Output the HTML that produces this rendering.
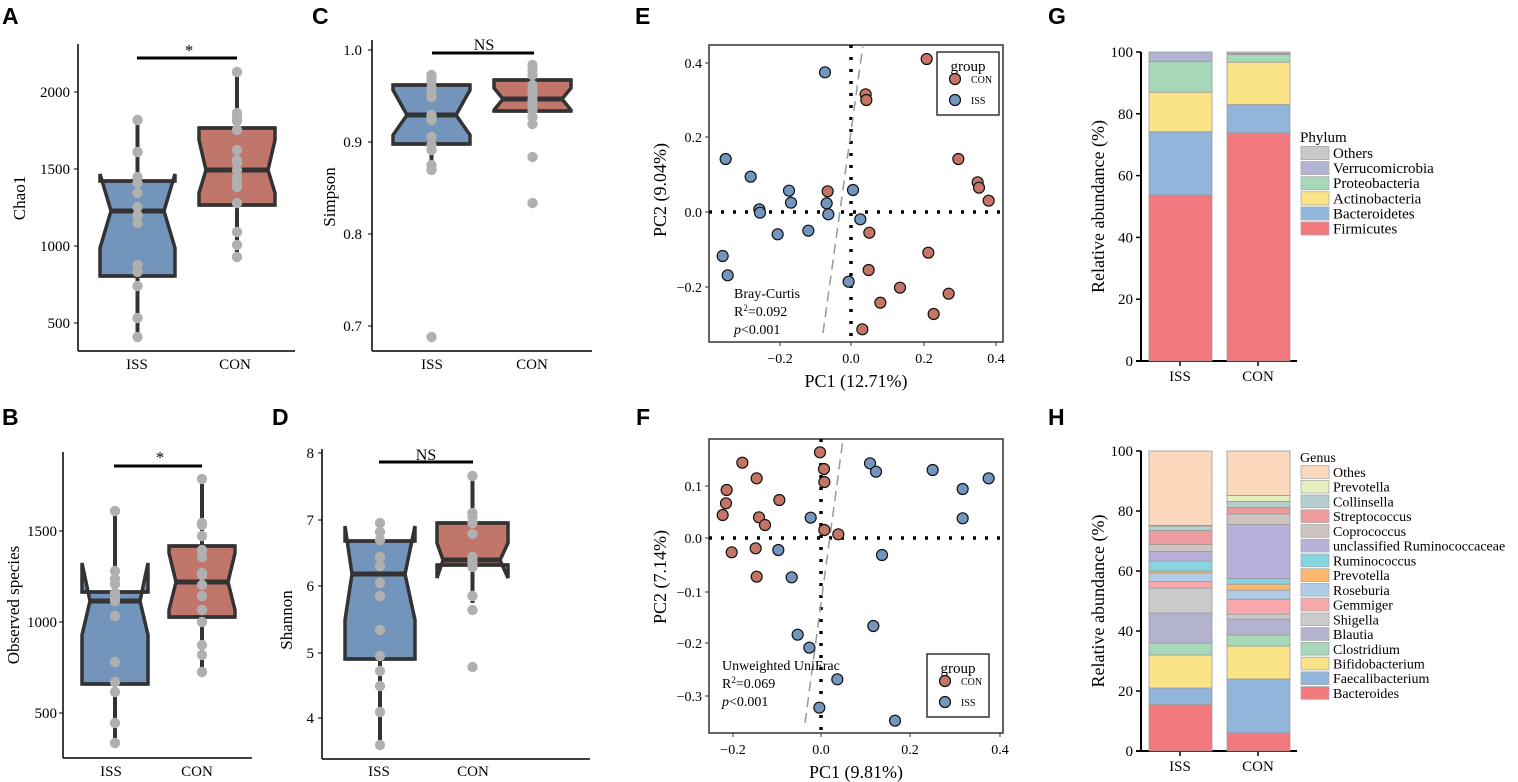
<!DOCTYPE html>
<html><head><meta charset="utf-8"><style>
html,body{margin:0;padding:0;background:#fff;width:1518px;height:782px;overflow:hidden}
svg{display:block;font-family:"Liberation Serif",serif}
.lt{font-family:"Liberation Sans",sans-serif;font-weight:bold;font-size:23px}
</style></head><body>
<svg id="s" width="1518" height="782" viewBox="0 0 1518 782" xmlns="http://www.w3.org/2000/svg">
<text class="lt" x="2" y="24">A</text>
<text class="lt" x="312" y="24">C</text>
<text class="lt" x="635" y="24">E</text>
<text class="lt" x="1048" y="24">G</text>
<text class="lt" x="2" y="425">B</text>
<text class="lt" x="272" y="425">D</text>
<text class="lt" x="636" y="425">F</text>
<text class="lt" x="1048" y="425">H</text>
</svg>
<script>
var S=document.getElementById('s');var h='';
function T(x,y,t,sz,anc,extra){h+='<text x="'+x+'" y="'+y+'" font-size="'+sz+'" text-anchor="'+(anc||'middle')+'" '+(extra||'')+'>'+t+'</text>';}
function L(x1,y1,x2,y2,c,w,extra){h+='<line x1="'+x1+'" y1="'+y1+'" x2="'+x2+'" y2="'+y2+'" stroke="'+c+'" stroke-width="'+w+'" '+(extra||'')+'/>';}
function C(x,y,r,f,st){h+='<circle cx="'+x+'" cy="'+y+'" r="'+r+'" fill="'+f+'"'+(st?' stroke="#111" stroke-width="1.2"':'')+'/>';}
function R(x,y,w,hh,f,st){h+='<rect x="'+x+'" y="'+y+'" width="'+w+'" height="'+hh+'" fill="'+f+'"'+(st?' stroke="'+st+'" stroke-width="0.8"':'')+'/>';}
function box(x0,x1,q3,nU,med,nL,q1,xi0,xi1,wt,wb,pts,col){
 var xc=(x0+x1)/2;
 L(xc,wt,xc,wb,'#333',4);
 h+='<path d="M'+x0+','+q1+' L'+x0+','+nL+' L'+xi0+','+med+' L'+x0+','+nU+' L'+x0+','+q3+' L'+x1+','+q3+' L'+x1+','+nU+' L'+xi1+','+med+' L'+x1+','+nL+' L'+x1+','+q1+' Z" fill="'+col+'" stroke="#333" stroke-width="3.5" stroke-linejoin="miter"/>';
 L(x0,q3,x1,q3,'#333',3.5);L(x0,q1,x1,q1,'#333',3.5);
 L(xi0,med,xi1,med,'#333',5);
 pts.forEach(function(y){C(xc,y,5.2,'#b0b0b0');});
}
var BL='#7395bb',RD='#c0766a';
function axes(x,top,bot,right){L(x,top,x,bot,'#000',1.5);L(x,bot,right,bot,'#000',1.5);}
// A
axes(78,44,351,295);
[[2000,92],[1500,169],[1000,246],[500,323]].forEach(function(t){T(70,t[1]+5,t[0],15,'end');L(74,t[1],78,t[1],'#000',1);});
T(20,198,'Chao1',17,'middle','transform="rotate(-90 20 198)" dy="5"');
box(100,175,181,174,211,248,276,111,164,120,337,[120,152,177,183,193,207,215,223,265,272,286,318,337],BL);
box(199,275,128,140,170,193,205,206,268,72,257,[72,113,118,121,130,150,160,163,170,177,183,187,203,232,245,257],RD);
L(137,58,237,58,'#000',3);T(189,56,'*',17);
T(137,369,'ISS',15);T(235,369,'CON',15);
// C
axes(372,40,351,592);
[['1.0',50],['0.9',142],['0.8',234],['0.7',326]].forEach(function(t){T(362,t[1]+5,t[0],15,'end');L(368,t[1],372,t[1],'#000',1);});
T(330,197,'Simpson',17,'middle','transform="rotate(-90 330 197)" dy="5"');
box(393,470,85,90,115,135,144,407,456,73,170,[75,78,82,88,92,97,115,117,120,137,145,150,165,170,337],BL);
box(494,571,80,88,99,110,111,503,562,65,125,[65,70,75,85,90,95,100,105,110,117,124,157,203],RD);
L(432,53,534,53,'#000',3);T(484,50,'NS',16);
T(432,369,'ISS',15);T(532,369,'CON',15);
// B
axes(63,452,758,252);
[[1500,531],[1000,622],[500,713]].forEach(function(t){T(57,t[1]+5,t[0],15,'end');L(59,t[1],63,t[1],'#000',1);});
T(14,605,'Observed species',17,'middle','transform="rotate(-90 14 605)" dy="5"');
box(82,148,592,563,601,635,684,90,140,511,743,[511,571,579,584,593,598,601,616,662,682,692,723,743],BL);
box(169,235,546,553,582,610,617,176,228,479,672,[479,523,525,536,550,557,573,575,585,596,610,622,645,655,672],RD);
L(114,466,202,466,'#000',3);T(160,463,'*',17);
T(111,776,'ISS',15);T(197,776,'CON',15);
// D
axes(322,449,759,590);
[[8,453],[7,520],[6,586],[5,653],[4,718]].forEach(function(t){T(314,t[1]+5,t[0],15,'end');L(318,t[1],322,t[1],'#000',1);});
T(287,620,'Shannon',17,'middle','transform="rotate(-90 287 620)" dy="5"');
box(345,415,541,526,574,620,659,352,405,523,745,[523,532,540,557,566,583,596,630,656,671,686,712,745],BL);
box(437,508,523,543,560,578,565,443,500,476,603,[476,513,517,523,534,557,560,563,567,596,610,667],RD);
L(379,462,473,462,'#000',3);T(426,460,'NS',16);
T(379,776,'ISS',15);T(473,776,'CON',15);
// PCoA
var PB='#7396be',PR='#c57566';
function pc(top,bot,xt,yt,vx,hy,dash,blue,red,xl,yl,yly,leg,txt,ty){
 h+='<rect x="709" y="'+top+'" width="294" height="'+(bot-top)+'" fill="none" stroke="#333" stroke-width="1.5"/>';
 xt.forEach(function(t){T(t[1],bot+21,t[0],14);L(t[1],bot,t[1],bot+4,'#333',1);});
 yt.forEach(function(t){T(702,t[1]+5,t[0],14,'end');L(705,t[1],709,t[1],'#333',1);});
 L(vx,top,vx,bot,'#000',3.5,'stroke-dasharray="3,9"');
 L(709,hy,1003,hy,'#000',3.5,'stroke-dasharray="3,9"');
 L(dash[0],dash[1],dash[2],dash[3],'#999',1.5,'stroke-dasharray="10,6"');
 blue.forEach(function(p){C(p[0]/3+600,p[1]/3+ty,5.5,PB,1);});
 red.forEach(function(p){C(p[0]/3+600,p[1]/3+ty,5.5,PR,1);});
 T(856,bot+45,xl,18);
 T(660,yly,yl,18,'middle','transform="rotate(-90 660 '+yly+')" dy="6"');
 h+='<rect x="'+leg[0]+'" y="'+leg[1]+'" width="62" height="63" fill="#fff" stroke="#333" stroke-width="1.5"/>';
 T(leg[0]+31,leg[1]+19,'group',15);
 C(leg[0]+18,leg[1]+27,5.5,PR,1);T(leg[0]+34,leg[1]+31,'CON',10,'start');
 C(leg[0]+18,leg[1]+48,5.5,PB,1);T(leg[0]+34,leg[1]+52,'ISS',10,'start');
 T(txt[1],txt[2],txt[0],14,'start');
 T(txt[1],txt[2]+18,'R<tspan font-size="9" dy="-5">2</tspan><tspan dy="5">='+txt[3]+'</tspan>',14,'start');
 T(txt[1],txt[2]+36,'<tspan font-style="italic">p</tspan>&lt;0.001',14,'start');
}
pc(45,342,[['\u22120.2',780],['0.0',851],['0.2',924],['0.4',996]],[['0.4',63],['0.2',137],['0.0',212],['\u22120.2',287]],851,212,[823,333,863,45],
[[675,217],[377,477],[452,530],[567,572],[573,608],[478,628],[480,638],[680,610],[685,643],[533,703],[625,692],[368,768],[383,826],[746,845],[759,570],[781,658]],
[[980,177],[797,283],[799,300],[683,574],[1075,477],[1133,547],[1137,563],[1166,602],[808,698],[985,758],[806,810],[900,863],[841,908],[1046,881],[1001,942],[787,988]],
'PC1 (12.71%)','PC2 (9.04%)',190,[937,52],['Bray-Curtis',734,298,'0.092'],0);
pc(439,733,[['\u22120.2',733],['0.0',821],['0.2',910],['0.4',1000]],[['0.1',486],['0.0',538],['\u22120.1',592],['\u22120.2',643],['\u22120.3',696]],821,538,[805,723,843,439],
[[810,220],[828,245],[998,240],[1166,265],[1088,297],[1088,385],[632,383],[535,480],[575,562],[846,495],[820,708],[593,734],[628,773],[712,868],[658,953],[885,992]],
[[660,187],[427,218],[470,265],[672,237],[673,276],[380,300],[378,340],[538,330],[368,375],[477,382],[495,405],[673,420],[715,433],[395,487],[467,475],[470,560]],
'PC1 (9.81%)','PC2 (7.14%)',577,[927,654],['Unweighted UniFrac',722,670,'0.069'],390);
// Stacked bars
function stack(top,bot,series,cols,names,title,legY,step,fs,legTitleY){
 var k=(bot-top)/100;
 L(1141,top,1141,bot,'#000',2);L(1136,bot,1297,bot,'#000',2);
 [0,20,40,60,80,100].forEach(function(v){var y=bot-v*k;L(1136,y,1141,y,'#000',1.5);T(1133,y+5,v,15,'end');});
 L(1180,bot,1180,bot+5,'#000',1.5);L(1258,bot,1258,bot+5,'#000',1.5);
 T(1180,bot+20,'ISS',15);T(1258,bot+20,'CON',15);
 var yc=(top+bot)/2;T(1098,yc,'Relative abundance (%)',18,'middle','transform="rotate(-90 1098 '+yc+')" dy="6"');
 [[1149,series[0]],[1227,series[1]]].forEach(function(b){var prev=0;b[1].forEach(function(v,i){R(b[0],bot-v*k,63,(v-prev)*k,cols[i],'#999');prev=v;});});
 T(1300,legTitleY,title,fs,'start');
 var n=names.length;
 for(var i=0;i<n;i++){var ci=n-1-i;var y=legY+i*step;R(1301,y-step/2+1,28,step-2,cols[ci],'#aaa');T(1333,y+5,names[ci],fs,'start');}
}
stack(52,361,[[53.7,74.2,87,97,100,100],[73.8,83,96.7,99.2,99.5,100]],
 ['#f2797d','#92b5dc','#fbe388','#a6d8b9','#b3b3d3','#c9c9c9'],
 ['Firmicutes','Bacteroidetes','Actinobacteria','Proteobacteria','Verrucomicrobia','Others'],'Phylum',153,15.1,15,142);
stack(451,751,[[15.5,21,32,36,46,54.3,56.5,59.3,60,63.3,66.5,68.8,73.5,75,75.2,100],[6,24,35,38.7,44,45.6,50.6,53.6,55.6,57.5,75.5,79,81.2,83.2,85.2,100]],
 ['#f2797d','#92b5dc','#fbe388','#a6d8b9','#b3b3d0','#cbcbcb','#f6a8aa','#b1cce8','#fbb76b','#86d5e0','#b6b0da','#cec4c0','#ec9c9c','#b4cfce','#e4f0c0','#fcd9bd'],
 ['Bacteroides','Faecalibacterium','Bifidobacterium','Clostridium','Blautia','Shigella','Gemmiger','Roseburia','Prevotella','Ruminococcus',' unclassified Ruminococcaceae','Coprococcus','Streptococcus','Collinsella','Prevotella','Othes'],'Genus',472,14.73,14,462);
S.insertAdjacentHTML('beforeend',h);
</script>
</body></html>
